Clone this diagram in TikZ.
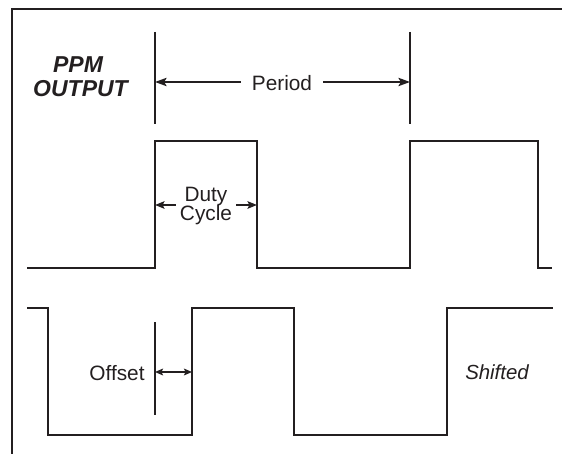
\documentclass[tikz,border=0pt]{standalone}
\usepackage{fontspec}
\setmainfont{Liberation Sans}
\usetikzlibrary{arrows.meta,positioning}
\definecolor{ink}{HTML}{231F20}
\tikzset{
    main_line/.style = {
        draw=ink,
        line width=0.9pt
    },
    marker_line/.style = {
        draw=ink,
        line width=0.85pt
    },
    dim_arrow/.style = {
        draw=ink,
        line width=0.65pt,
        -{Stealth[length=4.8pt,width=3.8pt,inset=1pt]}
    },
    big_arrow/.style = {
        dim_arrow,
        -{Stealth[length=5.8pt,width=4.2pt,inset=1.2pt]}
    },
    label_text/.style = {
        text=ink,
        inner sep=0pt,
        font=\fontsize{10.4}{10}\selectfont
    },
    title_text/.style = {
        text=ink,
        inner sep=0pt,
        font=\bfseries\itshape\fontsize{11.5}{11.5}\selectfont
    },
}
\begin{document}
\begin{tikzpicture}[x=0.5pt, y=-0.5pt]
                \useasboundingbox (0, 0) rectangle (562, 454);
                \path[main_line] (12, 454) -- (12, 9) -- (562, 9);

                \node[title_text, anchor=base] (ppm_lbl) at (78, 72.5) {PPM};
                \node[title_text, anchor=base] (output_lbl) at (80.5, 97) {OUTPUT};

                \begin{scope}
                    \coordinate (mark_a_top) at (155, 32);
                    \coordinate (mark_a_bot) at (155, 124);
                    \coordinate (mark_b_top) at (410, 32);
                    \coordinate (mark_b_bot) at (410, 124);
                    \path[marker_line] (mark_a_top) -- (mark_a_bot);
                    \path[marker_line] (mark_b_top) -- (mark_b_bot);
                    \node[label_text, anchor=base, inner xsep=5.5pt] (period_lbl) at (282, 90.5) {Period};
                    \draw[big_arrow] (period_lbl.west |- 0, 82) -- (mark_a_top |- 0, 82);
                    \draw[big_arrow] (period_lbl.east |- 0, 82) -- (mark_b_top |- 0, 82);
                \end{scope}

                \begin{scope}
                    \path[main_line] (27, 268) -| (155, 141) -| (257, 268) -| (410, 141) -| (538, 268) -- (552, 268);
                    \coordinate (rise_a) at (155, 205);
                    \coordinate (fall_a) at (257, 205);
                    \node[label_text, anchor=base] (duty_lbl) at (206, 202) {Duty};
                    \node[label_text, anchor=base, inner xsep=2pt] (cycle_lbl) at (206, 221) {Cycle};
                    \draw[dim_arrow] (cycle_lbl.west |- rise_a) -- (rise_a);
                    \draw[dim_arrow] (cycle_lbl.east |- fall_a) -- (fall_a);
                \end{scope}

                \begin{scope}
                    \path[main_line] (27, 308) -| (48, 435) -| (192, 308) -| (294, 435) -| (447, 308) -- (553, 308);
                    \coordinate (mark_c_top) at (155, 322);
                    \coordinate (mark_c_bot) at (155, 415);
                    \coordinate (rise_b) at (192, 372);
                    \path[marker_line] (mark_c_top) -- (mark_c_bot);
                    \node[label_text, anchor=base] (offset_lbl) at (117, 380.5) {Offset};
                    \draw[dim_arrow, {Stealth[length=4pt,width=3.4pt,inset=0.8pt]}-{Stealth[length=4pt,width=3.4pt,inset=0.8pt]}] (mark_c_top |- rise_b) -- (rise_b);
                    \node[label_text, anchor=base, font=\itshape\fontsize{10.2}{10}\selectfont] (shifted_lbl) at (497, 379) {Shifted};
                \end{scope}
            \end{tikzpicture}
\end{document}
